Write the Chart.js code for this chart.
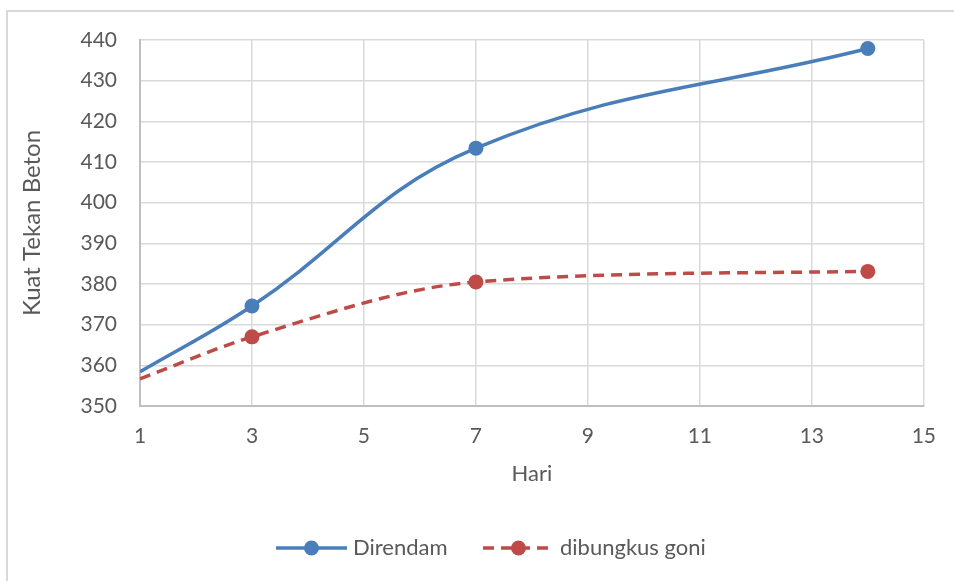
<!DOCTYPE html>
<html>
<head>
<meta charset="utf-8">
<script src="https://cdn.jsdelivr.net/npm/chart.js@4"></script>
<style>
    html, body { margin: 0; padding: 0; background: #fff; overflow: hidden; }
    #wrap { position: relative; width: 954px; height: 581px; }
    #frame { position: absolute; left: 6px; top: 10px; width: 1000px; height: 1000px; border: 2px solid #d9d9d9; box-sizing: border-box; }
    canvas { position: absolute; left: 0; top: 0; }
</style>
</head>
<body>
<div id="wrap">
    <div id="frame"></div>
    <canvas id="line-chart" width="954" height="581"></canvas>
</div>
<script>
/* values */
const hari = [1, 3, 7, 14]
const direndam = [358.4, 374.6, 413.4, 437.9]
const dibungkusGoni = [356.7, 367.0, 380.5, 383.1]
const yTicks = [350, 360, 370, 380, 390, 400, 410, 420, 430, 440]
const xTicks = [1, 3, 5, 7, 9, 11, 13, 15]

const toPoints = vals => vals.map((v, i) => ({x: hari[i], y: v}))
// first point sits on the axis edge, no marker there
const markers = vals => vals.map((v, i) => i === 0 ? 0 : 7.5)

const grey = '#595959'
const tickFont = {family: 'Lato', size: 21}
const titleFont = {family: 'Lato', size: 22}
const yTitleFont = {family: 'Lato', size: 24}

// legend at the bottom: line + dot + text, like the original
const legendPlugin = {
    id: 'bottomLegend',
    afterDraw(chart) {
        const ctx = chart.ctx
        const y = 548
        const items = [{x: 276}, {x: 483}]
        chart.data.datasets.forEach((ds, i) => {
            const x0 = items[i].x
            ctx.save()
            ctx.strokeStyle = ds.borderColor
            ctx.lineWidth = ds.borderWidth
            ctx.setLineDash(ds.borderDash || [])
            ctx.beginPath()
            ctx.moveTo(x0, y)
            ctx.lineTo(x0 + 71, y)
            ctx.stroke()
            ctx.setLineDash([])
            ctx.fillStyle = ds.backgroundColor
            ctx.beginPath()
            ctx.arc(x0 + 35.5, y, 7.5, 0, Math.PI * 2)
            ctx.fill()
            ctx.fillStyle = grey
            ctx.font = titleFont.size + 'px ' + titleFont.family
            ctx.textBaseline = 'middle'
            ctx.fillText(ds.label, x0 + 77, y)
            ctx.restore()
        })
    }
}

new Chart(document.getElementById('line-chart'), {
    type: 'line',
    data: {
        datasets: [
            {
                label: 'Direndam',
                data: toPoints(direndam),
                borderColor: '#4a7ebb',
                backgroundColor: '#4a7ebb',
                borderWidth: 3.5,
                pointRadius: markers(direndam),
                pointBorderWidth: 0,
                tension: 0.4,
                fill: false
            },
            {
                label: 'dibungkus goni',
                data: toPoints(dibungkusGoni),
                borderColor: '#be4b48',
                backgroundColor: '#be4b48',
                borderWidth: 3.5,
                borderDash: [11, 7],
                pointRadius: markers(dibungkusGoni),
                pointBorderWidth: 0,
                tension: 0.4,
                cubicInterpolationMode: 'monotone',
                fill: false
            }
        ]
    },
    options: {
        responsive: false,
        animation: false,
        layout: {padding: {top: 40, left: 10, right: 28, bottom: 0}},
        plugins: {
            legend: {display: false},
            tooltip: {enabled: false}
        },
        scales: {
            x: {
                type: 'linear',
                min: 1,
                max: 15,
                afterBuildTicks: axis => { axis.ticks = xTicks.map(v => ({value: v})) },
                afterFit: axis => { axis.height = 175 },
                grid: {color: '#d9d9d9', lineWidth: 1.5, drawTicks: false},
                border: {color: '#bfbfbf', width: 2},
                ticks: {color: grey, font: tickFont, padding: 18},
                title: {display: true, text: 'Hari', color: grey, font: titleFont, padding: {top: 0, bottom: 94}}
            },
            y: {
                min: 350,
                max: 440,
                afterBuildTicks: axis => { axis.ticks = yTicks.map(v => ({value: v})) },
                afterFit: axis => { axis.width = 130 },
                grid: {color: '#d9d9d9', lineWidth: 1.5, drawTicks: false},
                border: {color: '#bfbfbf', width: 2},
                ticks: {color: grey, font: tickFont, padding: 23},
                title: {display: true, text: 'Kuat Tekan Beton', color: grey, font: yTitleFont, padding: {top: 8, bottom: 0}}
            }
        }
    },
    plugins: [legendPlugin]
});
</script>
</body>
</html>
